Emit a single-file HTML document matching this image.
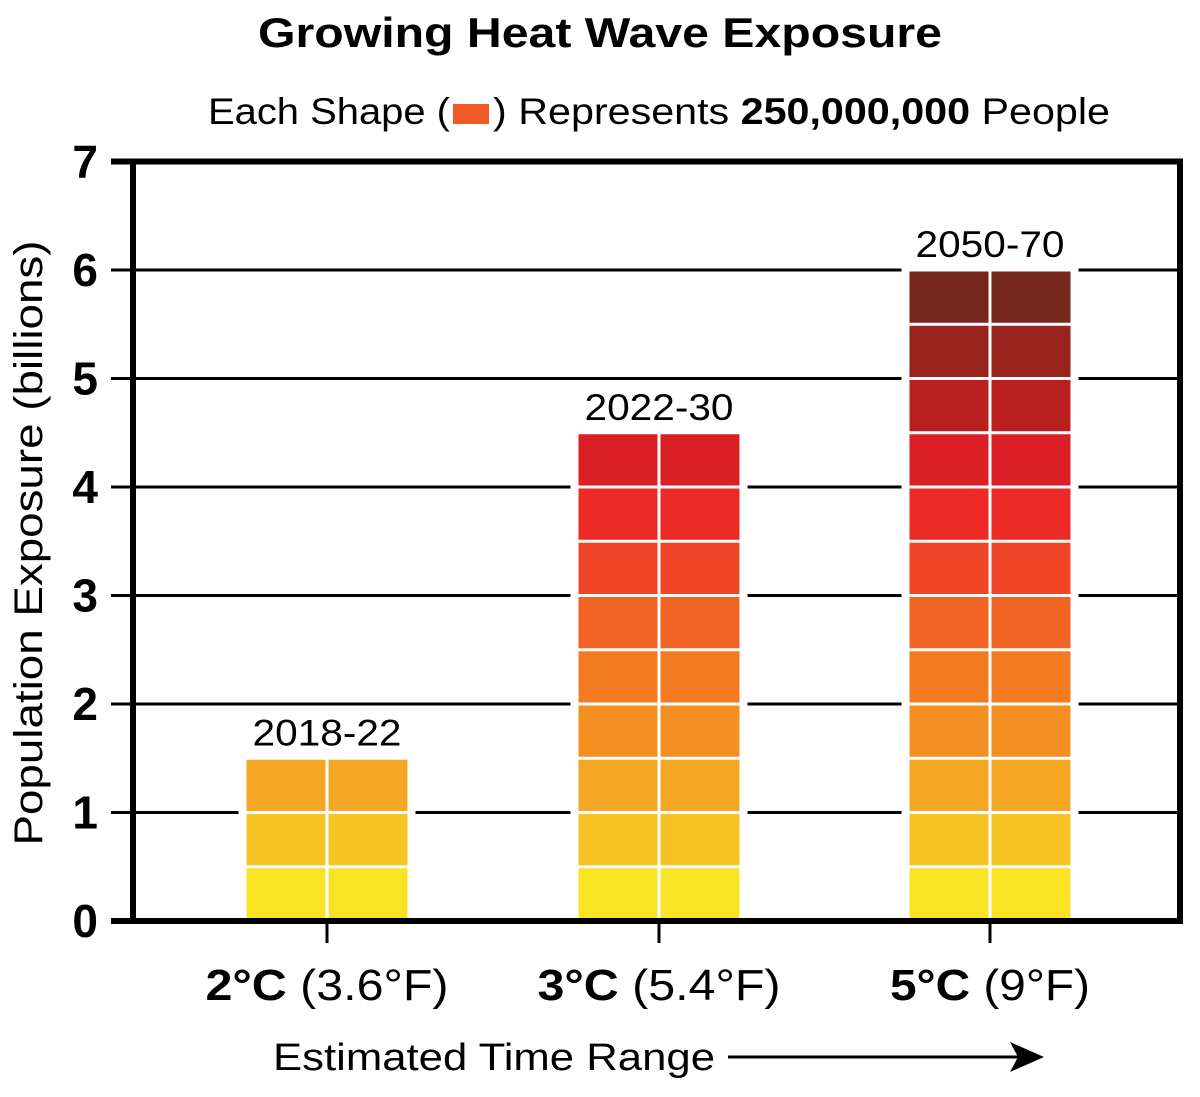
<!DOCTYPE html>
<html><head><meta charset="utf-8"><style>
body{margin:0;background:#fff;}
svg text{font-family:"Liberation Sans",sans-serif;}
</style></head><body>
<svg id="chart" width="1200" height="1092" viewBox="0 0 1200 1092" xmlns="http://www.w3.org/2000/svg">
<text x="258" y="47" font-size="42" font-weight="bold" textLength="684" lengthAdjust="spacingAndGlyphs">Growing Heat Wave Exposure</text>
<g>
<text x="208" y="124" font-size="37" textLength="242" lengthAdjust="spacingAndGlyphs">Each Shape (</text>
<rect x="453" y="104" width="36" height="20" fill="#f15a24"/>
<text x="493" y="124" font-size="37" textLength="617" lengthAdjust="spacingAndGlyphs">) Represents <tspan font-weight="bold">250,000,000</tspan> People</text>
</g>
<g id="grid"></g>
<g id="bars"></g>
<g id="axes"></g>
<text transform="translate(42,543) rotate(-90)" text-anchor="middle" font-size="40" textLength="605" lengthAdjust="spacingAndGlyphs">Population Exposure (billions)</text>
<g>
<text x="273" y="1070" font-size="38" textLength="442" lengthAdjust="spacingAndGlyphs">Estimated Time Range</text>
<line x1="728" y1="1057" x2="1020" y2="1057" stroke="#000" stroke-width="3"/>
<polygon points="1044,1057 1010,1042 1018,1057 1010,1072" fill="#000"/>
</g>
</svg>
<script>
const categoriesBold = ["2°C", "3°C", "5°C"];
const categoriesRest = [" (3.6°F)", " (5.4°F)", " (9°F)"];
const periods = ["2018-22", "2022-30", "2050-70"];
const values = [1.5, 4.5, 6];
const yTicks = [0, 1, 2, 3, 4, 5, 6, 7];
const cellColors = ["#f9e423","#f7c323","#f5a623","#f48f22","#f37b22","#f26424","#ef4426","#ee2a27","#da1f26","#bb2020","#98231d","#76261a"];

const NS = "http://www.w3.org/2000/svg";
const y0 = 921, yUnit = 108.5, left = 133, right = 1180;
const y = v => y0 - v * yUnit;
const xCenters = [327, 659, 990];
const x = i => xCenters[i];
const barW = 161;
const catWidths = [243, 243, 200];
function mk(tag, attrs, parent){const e=document.createElementNS(NS,tag);for(const k in attrs)e.setAttribute(k,attrs[k]);parent.appendChild(e);return e;}
const grid = document.getElementById('grid'), bars = document.getElementById('bars'), axes = document.getElementById('axes');

yTicks.forEach(t => {
  if (t > 0 && t < 7) {
    const l = mk('line',{x1:111,x2:right,y1:y(t),y2:y(t),stroke:'#000','stroke-width':3},grid);
    
    
  }
  const tx = mk('text',{x:98,y:y(t)+16,'text-anchor':'end','font-size':46,'font-weight':'bold'},axes);
  tx.textContent = t;
  
  
});

values.forEach((v, i) => {
  const cx = x(i), bx = cx - barW/2;
  const bg = mk('rect',{x:bx-8,y:y(v)-4,width:barW+16,height:y0-y(v)+4,fill:'#fff'},bars);
  
  
  const rows = Math.round(v / 0.5);
  for (let r = 0; r < rows; r++) {
    for (let c = 0; c < 2; c++) {
      const top = y((r+1)*0.5), bot = y(r*0.5);
      const rc = mk('rect',{x:bx + c*(barW/2) + (c?1.5:0), y:top+1.5, width:barW/2-1.5, height:bot-top-3, fill:cellColors[r]},bars);
      
      
    }
  }
  const pl = mk('text',{x:cx,y:y(v)-13,'text-anchor':'middle','font-size':37,textLength:149,lengthAdjust:'spacingAndGlyphs'},bars);
  pl.textContent = periods[i];
  
  
  const tk = mk('line',{x1:cx,x2:cx,y1:y0,y2:y0+22,stroke:'#000','stroke-width':3},axes);
  
  
  const cl = mk('text',{x:cx,y:1000,'text-anchor':'middle','font-size':44,textLength:catWidths[i],lengthAdjust:'spacingAndGlyphs'},axes);
  
  
  const b = mk('tspan',{'font-weight':'bold'},cl); b.textContent = categoriesBold[i];
  const rr = mk('tspan',{},cl); rr.textContent = categoriesRest[i];
});

const frame = mk('path',{d:`M111 ${y(7)} H${right} V${y0} H111 M${left} ${y(7)} V${y0}`,fill:'none',stroke:'#000','stroke-width':6},axes);


</script>
</body></html>
